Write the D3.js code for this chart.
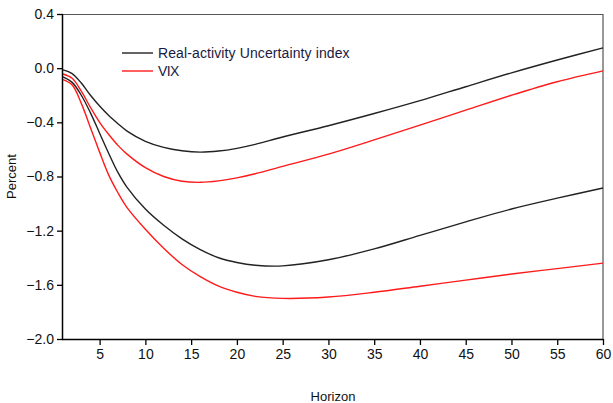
<!DOCTYPE html>
<html>
<head>
<meta charset="utf-8">
<script src="https://cdn.jsdelivr.net/npm/d3@7"></script>
<style>
  body { margin: 0; background: #fff; }
  text { font-family: "Liberation Sans", Arial, sans-serif; }
</style>
</head>
<body>
<div id="chart"></div>
<script>
const horizon = [1,2,3,4,5,6,7,8,10,12,14,16,18,20,22,25,30,35,40,45,50,55,60]
const rauUpper = [-0.013,-0.04,-0.11,-0.20,-0.28,-0.35,-0.41,-0.465,-0.54,-0.585,-0.61,-0.62,-0.612,-0.592,-0.563,-0.508,-0.425,-0.335,-0.24,-0.137,-0.035,0.06,0.15]
const rauLower = [-0.065,-0.105,-0.20,-0.33,-0.48,-0.63,-0.77,-0.88,-1.04,-1.16,-1.26,-1.34,-1.40,-1.435,-1.455,-1.46,-1.415,-1.335,-1.235,-1.135,-1.04,-0.96,-0.885]
const vixUpper = [-0.043,-0.075,-0.17,-0.29,-0.40,-0.49,-0.57,-0.635,-0.735,-0.80,-0.835,-0.843,-0.832,-0.81,-0.78,-0.725,-0.635,-0.53,-0.42,-0.31,-0.20,-0.10,-0.02]
const vixLower = [-0.085,-0.125,-0.26,-0.44,-0.62,-0.79,-0.92,-1.03,-1.19,-1.33,-1.45,-1.54,-1.61,-1.655,-1.685,-1.70,-1.69,-1.655,-1.61,-1.565,-1.52,-1.48,-1.44]
const xTicks = [5,10,15,20,25,30,35,40,45,50,55,60]
const yTicks = [0.4,0.0,-0.4,-0.8,-1.2,-1.6,-2.0]
const legendLabels = ["Real-activity Uncertainty index", "VIX"]

const margin = {top:14, right:10, bottom:64, left:63}
const width = 613 - margin.left - margin.right
const height = 403 - margin.top - margin.bottom

const svg = d3.select("#chart").append("svg")
    .attr("width", width + margin.left + margin.right)
    .attr("height", height + margin.top + margin.bottom)
    .append("g")
    .attr("transform", "translate(" + margin.left + "," + margin.top + ")");

const x = d3.scaleLinear().domain([1,60]).range([0,width])
const y = d3.scaleLinear().domain([-2.0,0.4]).range([height,0])

// frame top/right
svg.append("path")
    .attr("d", "M0,0.5H" + width + "V" + height)
    .attr("fill","none").attr("stroke","#555").attr("stroke-width",1.2)

const line = d3.line()
    .x((d,i) => x(horizon[i]))
    .y(d => y(d))
    .curve(d3.curveCatmullRom.alpha(0.5))

const series = [
    {v: rauUpper, c: "#222"},
    {v: rauLower, c: "#222"},
    {v: vixUpper, c: "#ff1a1a"},
    {v: vixLower, c: "#ff1a1a"}
]
series.forEach(s => {
    svg.append("path")
        .attr("d", line(s.v))
        .attr("fill","none")
        .attr("stroke", s.c)
        .attr("stroke-width", 1.4)
})

const xAxis = d3.axisBottom(x).tickValues(xTicks).tickSize(6).tickPadding(4)
const yAxis = d3.axisLeft(y).tickValues(yTicks).tickSize(6).tickPadding(3).tickFormat(d3.format(".1f"))

const gx = svg.append("g")
    .attr("transform", "translate(0," + height + ")")
    .call(xAxis)
gx.select(".domain").attr("d", "M-1,0.5H" + width).attr("stroke-width",1.5)

const gy = svg.append("g").call(yAxis)
gy.select(".domain").attr("d", "M-0.5,0V" + height).attr("stroke-width",1.5)

svg.selectAll(".tick line").attr("stroke","#000").attr("stroke-width",1.3)
svg.selectAll(".tick text").attr("font-size", 14).attr("fill","#111")
    .attr("font-family", "'Liberation Sans', Arial, sans-serif")

svg.append("text")
    .attr("x", width/2).attr("y", height + 62)
    .attr("text-anchor","middle")
    .attr("font-size", 13).attr("fill","#111")
    .text("Horizon")

svg.append("text")
    .attr("transform", "translate(" + (-47) + "," + (height/2) + ") rotate(-90)")
    .attr("text-anchor","middle")
    .attr("font-size", 13).attr("fill","#111")
    .text("Percent")

// legend
const leg = svg.append("g").attr("transform","translate(59,39)")
legendLabels.forEach((lab,i) => {
    leg.append("line")
        .attr("x1",0).attr("x2",31)
        .attr("y1", i*18).attr("y2", i*18)
        .attr("stroke", i === 0 ? "#222" : "#ff1a1a")
        .attr("stroke-width",1.4)
    const t = leg.append("text")
        .attr("x",36).attr("y", i*18 + 5)
        .attr("font-size", 14).attr("fill","#1a1a40")
        .attr("letter-spacing", "-0.6px")
        .text(lab)
    if (i === 0) t.attr("textLength", 191).attr("lengthAdjust", "spacing")
})
</script>
</body>
</html>
